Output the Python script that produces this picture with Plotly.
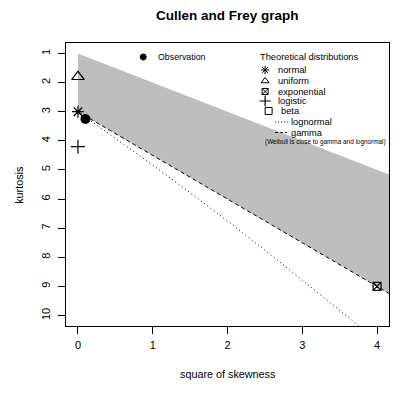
import plotly.graph_objects as go

# ---- data ----
obs_skew2 = [0.1]
obs_kurt = [3.25]

dist_names = ["normal", "uniform", "exponential", "logistic"]
dist_skew2 = [0, 0, 4, 0]
dist_kurt = [3, 1.8, 9, 4.2]

beta_upper_skew2 = [0, 4.5]        # kurtosis = 1 + skew^2 boundary
beta_upper_kurt = [1, 5.5]
gamma_skew2 = [0, 4.5]
gamma_kurt = [3, 9.75]

lnorm_skew2 = [0, 0.465, 0.961, 1.488, 2.048, 2.64, 3.267, 3.66, 3.86]
lnorm_kurt = [3, 3.84, 4.76, 5.76, 6.85, 8.04, 9.32, 10.14, 10.57]

x_ticks = [0, 1, 2, 3, 4]
y_ticks = [1, 2, 3, 4, 5, 6, 7, 8, 9, 10]

# ---- layout geometry (pixels) ----
W, H = 419, 396
L, R, T, B = 65.7, 389.0, 43.0, 326.0
FONT = "Liberation Sans, Arial, sans-serif"

fig = go.Figure()

# beta region polygon
fig.add_trace(go.Scatter(
    x=beta_upper_skew2 + gamma_skew2[::-1],
    y=beta_upper_kurt + gamma_kurt[::-1],
    fill="toself", fillcolor="#bebebe", mode="lines",
    line=dict(color="#bebebe", width=0), hoverinfo="skip", showlegend=False))

# gamma line
fig.add_trace(go.Scatter(x=gamma_skew2, y=gamma_kurt, mode="lines",
                         line=dict(color="black", width=1, dash="4px,3px"),
                         showlegend=False))
# lognormal line
fig.add_trace(go.Scatter(x=lnorm_skew2, y=lnorm_kurt, mode="lines",
                         line=dict(color="black", width=1, dash="1px,3px"),
                         showlegend=False))

symbols = {"normal": "asterisk-open", "uniform": "triangle-up-open",
           "exponential": "square-x-open", "logistic": "cross-thin-open"}
sizes = {"normal": 10, "uniform": 11, "exponential": 8, "logistic": 10}
for n, sx, ky in zip(dist_names, dist_skew2, dist_kurt):
    fig.add_trace(go.Scatter(x=[sx], y=[ky], mode="markers",
                             marker=dict(symbol=symbols[n], size=sizes[n], color="black",
                                         line=dict(color="black", width=1.2)),
                             cliponaxis=False, showlegend=False))

fig.add_trace(go.Scatter(x=obs_skew2, y=obs_kurt, mode="markers",
                         marker=dict(symbol="circle", size=10, color="black"),
                         cliponaxis=False, showlegend=False))

# ---- legend drawn on an overlay axis in pixel coordinates ----
def leg_marker(x, y, sym, size, lw=1):
    fig.add_trace(go.Scatter(x=[x], y=[y], xaxis="x2", yaxis="y2", mode="markers",
                             marker=dict(symbol=sym, size=size, color="black",
                                         line=dict(color="black", width=lw)),
                             cliponaxis=False, showlegend=False, hoverinfo="skip"))

def leg_text(x, y, s, size=9.3):
    fig.add_annotation(x=x, y=y, xref="x2", yref="y2", text=s, showarrow=False,
                       xanchor="left", yanchor="middle", xshift=-1,
                       font=dict(family=FONT, size=size, color="black"))

leg_marker(143, 57, "circle", 6)
leg_text(157, 57, "Observation", size=8.8)
leg_text(258.5, 56.5, "Theoretical distributions", size=9.3)
leg_marker(265, 70, "asterisk-open", 7)
leg_text(277, 70, "normal")
leg_marker(265, 81, "triangle-up-open", 7)
leg_text(277, 81, "uniform")
leg_marker(265, 91.5, "square-x-open", 6)
leg_text(277, 91.5, "exponential")
leg_marker(265, 101, "cross-thin-open", 8, lw=1.2)
leg_text(277, 101, "logistic")
leg_marker(268.5, 111, "square-open", 7)
leg_text(280, 111, "beta")
fig.add_trace(go.Scatter(x=[275, 288], y=[122, 122], xaxis="x2", yaxis="y2", mode="lines",
                         line=dict(color="black", width=1, dash="1px,2px"),
                         showlegend=False, hoverinfo="skip"))
leg_text(290, 122, "lognormal")
fig.add_trace(go.Scatter(x=[275, 287], y=[132.5, 132.5], xaxis="x2", yaxis="y2", mode="lines",
                         line=dict(color="black", width=1, dash="3px,2px"),
                         showlegend=False, hoverinfo="skip"))
leg_text(290, 132.5, "gamma")
leg_text(264, 141.5, "(Weibull is close to gamma and lognormal)", size=6.4)

# ---- titles ----
fig.add_annotation(x=0.5, y=(B - 16) / (B - T), xref="paper", yref="paper",
                   text="<b>Cullen and Frey graph</b>", showarrow=False,
                   xanchor="center", yanchor="middle",
                   font=dict(family=FONT, size=13.5, color="black"))
fig.add_annotation(x=0.5, y=(B - 374) / (B - T), xref="paper", yref="paper",
                   text="square of skewness", showarrow=False,
                   xanchor="center", yanchor="middle",
                   font=dict(family=FONT, size=10.8, color="black"))
fig.add_annotation(x=(18 - L) / (R - L), y=0.5, xref="paper", yref="paper",
                   text="kurtosis", showarrow=False, textangle=-90,
                   xanchor="center", yanchor="middle",
                   font=dict(family=FONT, size=10.8, color="black"))

axis_common = dict(showgrid=False, zeroline=False, showline=True, linecolor="black",
                   linewidth=1, mirror=True, ticks="outside", ticklen=7,
                   tickcolor="black", tickwidth=1,
                   tickfont=dict(family=FONT, size=11, color="black"))

fig.update_layout(
    width=W, height=H, autosize=False,
    margin=dict(l=L, r=W - R, t=T, b=H - B, pad=0),
    plot_bgcolor="white", paper_bgcolor="white",
    showlegend=False,
    xaxis=dict(range=[-0.16, 4.16], tickvals=x_ticks, ticktext=[str(v) for v in x_ticks],
               ticklabelstandoff=2, **axis_common),
    yaxis=dict(range=[10.36, 0.64], tickvals=y_ticks, ticktext=[str(v) for v in y_ticks],
               tickangle=-90, ticklabelstandoff=4, **axis_common),
    xaxis2=dict(overlaying="x", range=[L, R], visible=False, anchor="y2"),
    yaxis2=dict(overlaying="y", range=[B, T], visible=False, anchor="x2"),
)

fig.write_html("out.html", config={"displayModeBar": False},
               post_script="document.body.style.margin='0px';")
